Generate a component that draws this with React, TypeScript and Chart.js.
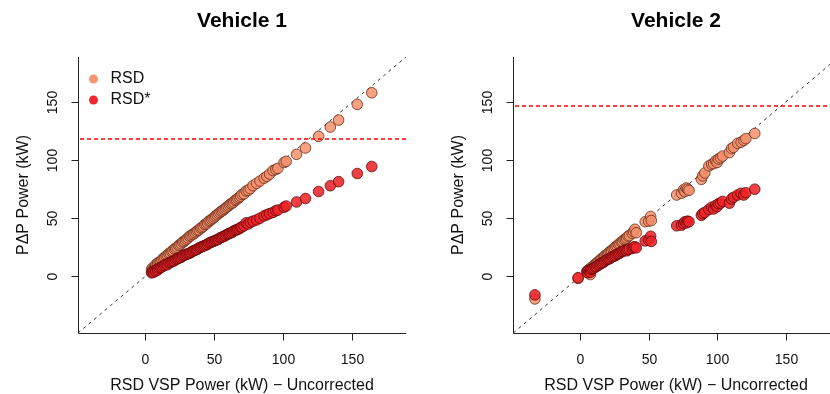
import React, { useEffect, useRef } from 'react';
import { Chart, registerables } from 'chart.js';

Chart.register(...registerables);

const FONT = "'Liberation Sans', Arial, Helvetica, sans-serif";
const AXIS_MIN = -48.8;
const AXIS_MAX = 188.8;
const TICK_VALUES = [0, 50, 100, 150];
const X_TITLE = 'RSD VSP Power (kW) \u2212 Uncorrected';
const Y_TITLE = 'P\u0394P Power (kW)';
const SERIES_NAMES = ['RSD', 'RSD*'];

// Vehicle 1
const v1X = [4.5, 5, 6, 7, 7.5, 8.5, 9, 10, 11, 12, 13, 14, 15, 16, 17, 18, 19, 20, 21, 22, 23, 24, 25, 26, 27, 28, 29, 30, 31, 32, 33, 34, 35, 36, 37, 38, 39, 40, 41, 42, 43, 44, 45, 46, 47, 48, 49, 50, 51, 52, 53, 54, 55, 56, 57, 58, 59, 60, 61, 62, 63, 64, 65, 66, 67, 68, 69, 70, 71.5, 73, 74.5, 76, 78, 80.5, 83, 86, 88, 90, 92.5, 94.5, 96, 100.5, 102, 109.5, 116, 125.5, 134, 140, 153.5, 164];
const v1RSD = [5.5, 7, 6.5, 8.5, 10, 9.5, 11.5, 12, 12.5, 14, 15.5, 16, 17.5, 18, 19.5, 20, 21.5, 22, 23.5, 24, 25, 26.5, 27, 28, 29.5, 30, 31, 32, 33, 34.5, 35, 36, 36.5, 37.5, 38.5, 39.5, 40, 41.5, 42, 43, 44.5, 45, 46, 47.5, 48, 49, 50, 51, 52, 53, 54, 55, 56, 56.5, 57.5, 58.5, 59.5, 60.5, 61.5, 62.5, 63, 64, 65.5, 66, 67, 68, 69, 70.5, 71, 73.5, 74, 75.5, 78, 80, 82, 84.5, 86, 88, 91, 92, 93, 98, 99, 105, 110.5, 120.5, 128.5, 134.5, 148, 158];
const v1RSDStar = [3, 4, 3.5, 5, 4.5, 6, 5.5, 7, 7.5, 8, 9, 9.5, 10.5, 10, 11.5, 12, 12.5, 13, 13.5, 14.5, 15, 15.5, 16, 16.5, 17.5, 18, 18.5, 19, 19.5, 20, 20.5, 21.5, 22, 22.5, 23, 23.5, 24.5, 25, 25.5, 26, 26.5, 27, 27.5, 28.5, 29, 29.5, 30, 30.5, 31, 31.5, 32, 33, 33.5, 34, 34.5, 35, 36, 36.5, 37, 37.5, 38, 39, 39.5, 40, 40.5, 41, 42, 42.5, 43.5, 46, 45, 46.5, 47.5, 48.5, 50, 52, 53, 54, 55, 56.5, 57, 59.5, 60.5, 64, 67, 73, 78, 81.5, 88.5, 94.5];
const v1Threshold = 118.5;

// Vehicle 2
const v2X = [-33, -1.5, 5, 5.5, 6, 7, 7.5, 8, 9, 10, 11, 12, 13, 14, 15, 16, 17, 18, 19, 20, 21, 22, 23, 24, 25, 26, 27, 28, 29, 30, 31, 32, 33, 34, 35, 36, 38, 39, 40, 41, 47.5, 50, 51.5, 52, 70.5, 74, 75.5, 76.5, 77.5, 78.5, 79.5, 88.5, 89.5, 91, 94, 96, 97.5, 99, 100, 101, 102.5, 104, 109, 110.5, 112, 115, 117.5, 119.5, 121, 127.5];
const v2RSD = [-19.5, -1.8, 4.5, 3.5, 5.5, 6, 1.5, 7.5, 8, 9.5, 10, 11.5, 12, 13.5, 14.5, 15.5, 16, 17.5, 18.5, 19, 20.5, 21.5, 22, 23.5, 24, 25.5, 26, 27.5, 28, 29.5, 30, 31.5, 32, 33, 34.5, 35, 37, 38.5, 40.5, 37.5, 47, 47.5, 51.5, 48, 70, 71.5, 74.5, 73, 76, 75, 74, 83.5, 86.5, 89, 95, 96.5, 97, 99.5, 98, 101, 102, 103.5, 106.5, 110, 111, 114.5, 115.5, 117, 118.5, 123];
const v2RSDStar = [-16, -1.2, 4, 3, 5, 4.5, 3.5, 6, 6.5, 7, 8, 8.5, 9.5, 10, 11, 11.5, 12, 13, 14, 14.5, 15, 15.5, 16.5, 17, 17.5, 18, 19, 19.5, 20, 21, 21.5, 22, 22.5, 22, 23, 23.5, 24, 25, 25.5, 24.5, 30.5, 31, 34.5, 30, 43.5, 44, 45.5, 47, 46, 47.5, 47, 52.5, 54, 55, 57.5, 59.5, 58, 61, 60, 62.5, 63, 64.5, 63, 66.5, 68, 70, 71.5, 70, 72, 75];
const v2Threshold = 146.5;

const COLORS = {
  rsdFill: 'rgba(244,144,108,0.85)',
  rsdBorder: 'rgba(105,45,25,0.8)',
  starFill: 'rgba(236,36,42,0.88)',
  starBorder: 'rgba(100,8,8,0.8)',
  legendRsd: 'rgb(247,150,115)',
  legendStar: 'rgb(238,40,48)',
  threshold: '#ff0000',
  identity: '#333333',
};

type PanelProps = {
  left: number;
  width: number;
  padLeft: number;
  padRight: number;
  title: string;
  xs: number[];
  ysA: number[];
  ysB: number[];
  threshold: number;
  showLegend: boolean;
};

function toPoints(xs: number[], ys: number[]) {
  return xs.map((x, i) => ({ x, y: ys[i] }));
}

function Panel(props: PanelProps) {
  const ref = useRef<HTMLCanvasElement | null>(null);
  useEffect(() => {
    const canvas = ref.current;
    if (!canvas) return;
    const threshold = props.threshold;
    const decor = {
      id: 'decor',
      beforeDatasetsDraw(chart: any) {
        const { ctx, chartArea } = chart;
        const xs = chart.scales.x;
        const ys = chart.scales.y;
        ctx.save();
        ctx.beginPath();
        ctx.rect(chartArea.left, chartArea.top, chartArea.right - chartArea.left, chartArea.bottom - chartArea.top);
        ctx.clip();
        ctx.lineWidth = 1;
        ctx.strokeStyle = COLORS.identity;
        ctx.setLineDash([3, 4]);
        ctx.beginPath();
        ctx.moveTo(xs.getPixelForValue(AXIS_MIN), ys.getPixelForValue(AXIS_MIN));
        ctx.lineTo(xs.getPixelForValue(AXIS_MAX), ys.getPixelForValue(AXIS_MAX));
        ctx.stroke();
        ctx.restore();
      },
      afterDatasetsDraw(chart: any) {
        const { ctx, chartArea } = chart;
        const ys = chart.scales.y;
        ctx.save();
        ctx.globalAlpha = 1;
        ctx.strokeStyle = COLORS.threshold;
        ctx.lineWidth = 1.4;
        ctx.setLineDash([4, 3]);
        const ty = Math.round(ys.getPixelForValue(threshold));
        ctx.beginPath();
        ctx.moveTo(Math.round(chartArea.left) + 2, ty);
        ctx.lineTo(chartArea.right, ty);
        ctx.stroke();
        ctx.restore();
      },
      afterDraw(chart: any) {
        const { ctx, chartArea } = chart;
        const xs = chart.scales.x;
        const ys = chart.scales.y;
        const left = Math.round(chartArea.left) + 0.5;
        const bottom = Math.round(chartArea.bottom) + 0.5;
        ctx.save();
        ctx.setLineDash([]);
        ctx.strokeStyle = '#222';
        ctx.lineWidth = 1;
        ctx.beginPath();
        ctx.moveTo(left, chartArea.top);
        ctx.lineTo(left, bottom);
        ctx.lineTo(chartArea.right, bottom);
        ctx.stroke();
        ctx.fillStyle = '#111';
        ctx.font = `14px ${FONT}`;
        TICK_VALUES.forEach((v) => {
          const px = Math.round(xs.getPixelForValue(v)) + 0.5;
          ctx.beginPath();
          ctx.moveTo(px, bottom);
          ctx.lineTo(px, bottom + 7);
          ctx.stroke();
          ctx.textAlign = 'center';
          ctx.textBaseline = 'middle';
          ctx.fillText(String(v), px, bottom + 27);
          const py = Math.round(ys.getPixelForValue(v)) + 0.5;
          ctx.beginPath();
          ctx.moveTo(left - 7, py);
          ctx.lineTo(left, py);
          ctx.stroke();
          ctx.save();
          ctx.translate(left - 25, py);
          ctx.rotate(-Math.PI / 2);
          ctx.fillText(String(v), 0, 0);
          ctx.restore();
        });
        const cx = (xs.getPixelForValue(AXIS_MIN) + xs.getPixelForValue(AXIS_MAX)) / 2;
        const cy = (ys.getPixelForValue(AXIS_MIN) + ys.getPixelForValue(AXIS_MAX)) / 2;
        ctx.font = `16px ${FONT}`;
        ctx.textAlign = 'center';
        ctx.textBaseline = 'middle';
        ctx.fillText(X_TITLE, cx, bottom + 52);
        ctx.save();
        ctx.translate(left - 55, cy);
        ctx.rotate(-Math.PI / 2);
        ctx.fillText(Y_TITLE, 0, 0);
        ctx.restore();
        ctx.font = `bold 21px ${FONT}`;
        ctx.fillStyle = '#000';
        ctx.fillText(props.title, cx, 21);
        if (props.showLegend) {
          const items = [
            { name: SERIES_NAMES[0], color: COLORS.legendRsd, y: 79 },
            { name: SERIES_NAMES[1], color: COLORS.legendStar, y: 100 },
          ];
          ctx.font = `16px ${FONT}`;
          ctx.textAlign = 'left';
          items.forEach((it) => {
            ctx.fillStyle = it.color;
            ctx.beginPath();
            ctx.arc(left + 15, it.y, 4.5, 0, Math.PI * 2);
            ctx.fill();
            ctx.fillStyle = '#111';
            ctx.fillText(it.name, left + 32, it.y);
          });
        }
        ctx.restore();
      },
    };
    const chart = new Chart(canvas, {
      type: 'scatter',
      data: {
        datasets: [
          {
            label: SERIES_NAMES[0],
            data: toPoints(props.xs, props.ysA),
            backgroundColor: COLORS.rsdFill,
            borderColor: COLORS.rsdBorder,
            borderWidth: 1,
            pointRadius: 5.3,
            order: 2,
          },
          {
            label: SERIES_NAMES[1],
            data: toPoints(props.xs, props.ysB),
            backgroundColor: COLORS.starFill,
            borderColor: COLORS.starBorder,
            borderWidth: 1,
            pointRadius: 5.3,
            order: 1,
          },
        ],
      },
      options: {
        animation: false,
        responsive: false,
        maintainAspectRatio: false,
        devicePixelRatio: 1,
        layout: { padding: { left: props.padLeft, right: props.padRight, top: 57, bottom: 61 } },
        scales: {
          x: { type: 'linear', min: AXIS_MIN, max: AXIS_MAX, display: false },
          y: { type: 'linear', min: AXIS_MIN, max: AXIS_MAX, display: false },
        },
        plugins: { legend: { display: false }, tooltip: { enabled: false }, title: { display: false } },
      },
      plugins: [decor],
    });
    return () => chart.destroy();
  }, []);
  return (
    <canvas
      ref={ref}
      width={props.width}
      height={394}
      style={{ position: 'absolute', left: props.left, top: 0, width: props.width, height: 394 }}
    />
  );
}

export default function App() {
  useEffect(() => {
    document.body.style.margin = '0';
    document.body.style.background = '#fff';
  }, []);
  return (
    <div style={{ position: 'relative', width: 830, height: 394, overflow: 'hidden', background: '#fff' }}>
      <Panel left={0} width={415} padLeft={78} padRight={9} title="Vehicle 1" xs={v1X} ysA={v1RSD} ysB={v1RSDStar} threshold={v1Threshold} showLegend={true} />
      <Panel left={415} width={430} padLeft={98.3} padRight={3.2} title="Vehicle 2" xs={v2X} ysA={v2RSD} ysB={v2RSDStar} threshold={v2Threshold} showLegend={false} />
    </div>
  );
}
